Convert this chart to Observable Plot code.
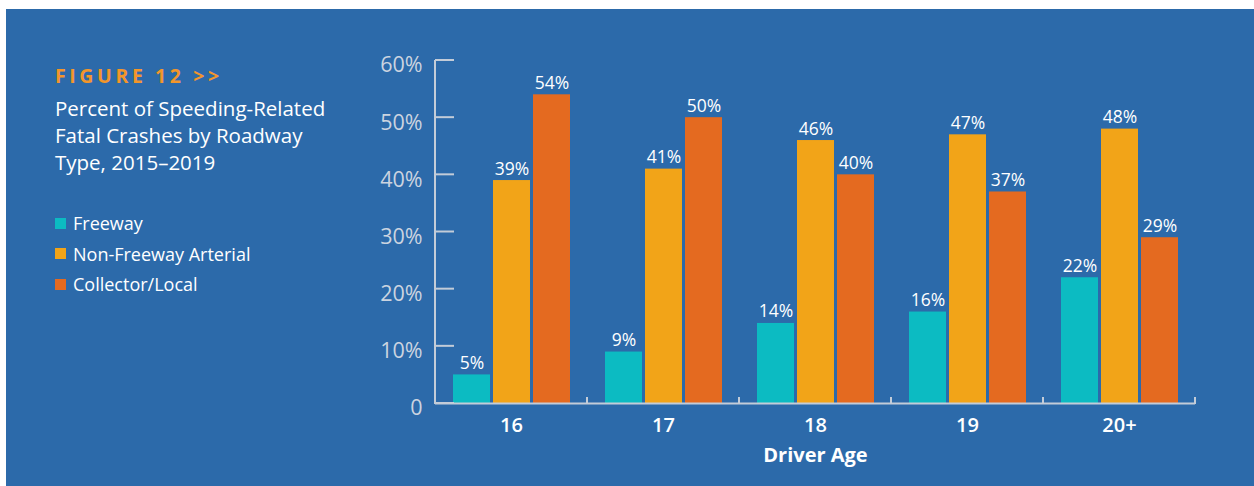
<!DOCTYPE html>
<html>
<head>
<meta charset="utf-8">
<script src="https://cdn.jsdelivr.net/npm/d3@7"></script>
<script src="https://cdn.jsdelivr.net/npm/@observablehq/plot@0.6"></script>
<style>
  html, body { margin: 0; padding: 0; background: #ffffff; }
  #wrap { position: relative; width: 1254px; height: 486px; overflow: hidden; font-family: "Open Sans", sans-serif; }
  #panel { position: absolute; left: 6px; top: 9px; right: 0; bottom: 0; background: #2C6AAA; }
  #chart { position: absolute; left: 0; top: 0; }
  #side { position: absolute; left: 55px; top: 64px; color: #ffffff; }
  #fig { color: #F3962A; font-weight: 700; font-size: 19.5px; letter-spacing: 3.6px; line-height: 24px; }
  #sub { font-size: 20.5px; line-height: 27px; margin-top: 7px; }
  #legend { margin-top: 32px; }
  .li { display: flex; align-items: center; font-size: 18px; height: 30.5px; }
  .sw { width: 11px; height: 11px; margin-right: 7px; flex: none; }
  g[aria-label="fx-axis label"] text { font-weight: 700; }
</style>
</head>
<body>
<div id="wrap">
  <div id="panel"></div>
  <div id="chart"></div>
  <div id="side">
    <div id="fig">FIGURE 12 &gt;&gt;</div>
    <div id="sub">Percent of Speeding-Related<br>Fatal Crashes by Roadway<br>Type, 2015–2019</div>
    <div id="legend"></div>
  </div>
</div>
<script>
const ages = ["16", "17", "18", "19", "20+"];
const series = ["Freeway", "Non-Freeway Arterial", "Collector/Local"];
const freeway = [5, 9, 14, 16, 22];
const arterial = [39, 41, 46, 47, 48];
const collector = [54, 50, 40, 37, 29];
const colors = ["#0CBBC2", "#F2A418", "#E46A20"];
const yTicks = [0, 10, 20, 30, 40, 50, 60];

const seriesValues = [freeway, arterial, collector];
const data = [];
ages.forEach((age, i) => {
  series.forEach((s, j) => data.push({age, series: s, value: seriesValues[j][i]}));
});

const axisColor = "#C3CCD8";

const chart = Plot.plot({
  width: 1254,
  height: 486,
  marginLeft: 433,
  marginRight: 58,
  marginTop: 60,
  marginBottom: 83,
  style: {background: "transparent", fontFamily: "Open Sans, sans-serif", overflow: "visible"},
  fx: {domain: ages, padding: 0},
  x: {domain: series, paddingInner: 0.08, paddingOuter: 0.44, axis: null},
  y: {domain: [0, 60], axis: null},
  color: {domain: series, range: colors},
  marks: [
    Plot.barY(data, {fx: "age", x: "series", y: "value", fill: "series"}),
    Plot.text(data, {fx: "age", x: "series", y: "value", text: d => d.value + "%", lineAnchor: "bottom", dy: -6, fill: "#ffffff", fontSize: 17.5}),
    Plot.ruleY([0], {stroke: axisColor, strokeWidth: 2}),
    Plot.axisY(yTicks, {anchor: "left", tickSize: 0, tickPadding: 13, dy: 5, fontSize: 21.5, fill: "#CBD4E0", tickFormat: d => d === 0 ? "0" : d + "%", label: null}),
    Plot.axisFx({anchor: "bottom", tickSize: 0, tickPadding: 14, fontSize: 20, fill: "#ffffff", fontWeight: 600, label: "Driver Age", labelAnchor: "center", labelOffset: 58})
  ]
});
document.getElementById("chart").appendChild(chart);

// axis line and tick decorations from the library's scales
const svg = d3.select(chart);
const fx = chart.scale("fx");
const y = chart.scale("y");
const x0 = fx.apply(ages[0]);
const g = svg.append("g").attr("stroke", axisColor).attr("stroke-width", 2);
g.append("line").attr("x1", x0).attr("x2", x0).attr("y1", y.apply(60)).attr("y2", y.apply(0) + 1);
yTicks.forEach(t => {
  g.append("line").attr("x1", x0).attr("x2", x0 + 19).attr("y1", y.apply(t)).attr("y2", y.apply(t));
});
ages.forEach(a => {
  const xb = fx.apply(a) + fx.bandwidth;
  g.append("line").attr("x1", xb).attr("x2", xb).attr("y1", y.apply(0) + 1).attr("y2", y.apply(0) - 6);
});

// legend
const legend = document.getElementById("legend");
series.forEach((s, i) => {
  const row = document.createElement("div");
  row.className = "li";
  row.innerHTML = `<span class="sw" style="background:${colors[i]}"></span><span>${s}</span>`;
  legend.appendChild(row);
});
</script>
</body>
</html>
